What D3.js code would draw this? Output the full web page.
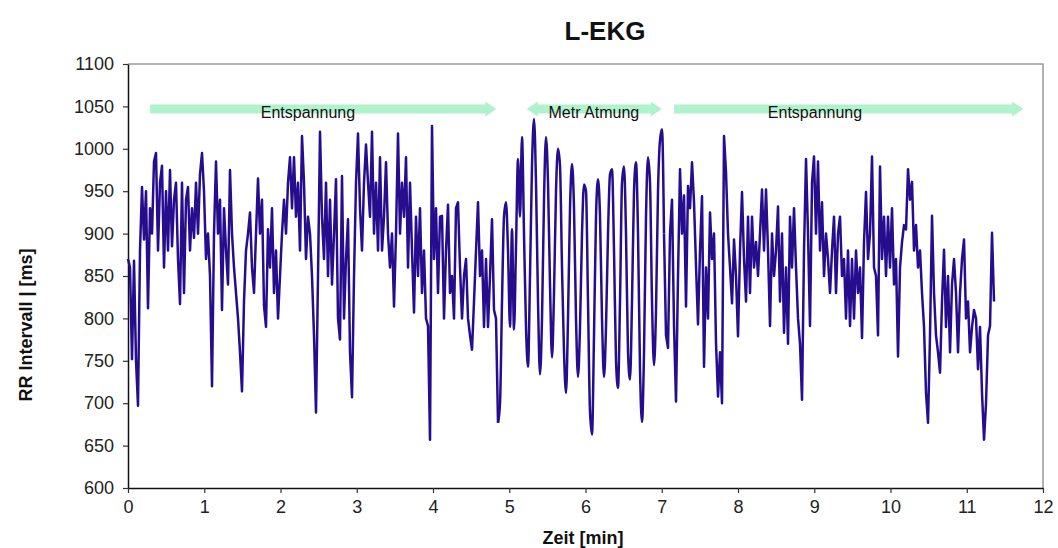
<!DOCTYPE html>
<html lang="de">
<head>
<meta charset="utf-8">
<title>L-EKG</title>
<script src="https://d3js.org/d3.v7.min.js" charset="utf-8"></script>
<style>
	body { margin: 0; background: #fff; }
	text { font-family: "Liberation Sans", Arial, sans-serif; }
</style>
</head>
<body>
<script>
	var rrEntspannung1 = [
		870, 860, 752, 868, 750, 697, 880, 955, 893, 950,
		812, 930, 900, 985, 995, 880, 960, 980, 860, 950,
		880, 975, 885, 940, 960, 870, 817, 960, 830, 940,
		955, 880, 930, 895, 960, 900, 970, 995, 950, 870,
		900, 850, 720, 900, 985, 900, 940, 810, 930, 880,
		840, 975, 900, 860, 830, 800, 760, 714, 820, 880,
		900, 925, 860, 830, 900, 965, 900, 940, 815, 790,
		905, 860, 930, 830, 880, 800, 850, 900, 940, 900,
		960, 990, 930, 990, 920, 960, 880, 1015, 960, 870,
		920, 900, 850, 780, 689, 850, 1020, 920, 870, 960,
		850, 940, 840, 900, 964, 800, 775, 968, 800, 870,
		917, 760, 707, 850, 960, 1018, 930, 880, 960, 1005,
		960, 920, 1020, 900, 960, 880, 990, 880, 920, 984,
		900, 860, 900, 814, 900, 1018, 900, 960, 920, 990,
		860, 960, 880, 807, 920, 850, 930, 830, 880, 800,
		791, 657, 1027, 870, 930, 830, 920, 921, 800, 880,
		934, 830, 850, 800, 930, 937, 860, 800, 850, 870,
		800, 780, 763, 820, 880, 937, 850, 880, 790, 870,
		790, 850, 917, 810, 800, 677
	];
	var rrAtmung = [
		700, 820, 920, 937, 880, 790, 905, 787, 885, 988,
		920, 1014, 900, 790, 743, 850, 980, 1035, 960, 820,
		734, 800, 940, 1014, 960, 840, 754, 830, 950, 1000,
		980, 860, 760, 712, 800, 930, 982, 930, 800, 731,
		790, 900, 958, 950, 820, 690, 663, 780, 920, 964,
		920, 800, 731, 790, 900, 970, 976, 880, 750, 718,
		820, 960, 979, 900, 760, 728, 820, 950, 984, 900,
		740, 678, 760, 920, 990, 960, 820, 745, 810, 950,
		1010, 1023, 900
	];
	var rrEntspannung2 = [
		780, 765, 900, 940, 791, 702, 850, 976, 900, 945,
		814, 956, 930, 984, 937, 862, 793, 880, 944, 743,
		860, 800, 925, 870, 900, 771, 708, 760, 700, 1015,
		972, 900, 860, 818, 893, 850, 779, 880, 949, 870,
		820, 920, 830, 920, 860, 890, 850, 900, 952, 880,
		952, 880, 791, 900, 850, 880, 932, 820, 900, 783,
		860, 770, 920, 860, 930, 860, 800, 770, 704, 880,
		988, 900, 791, 960, 991, 900, 985, 880, 937, 850,
		900, 870, 830, 880, 920, 830, 900, 920, 850, 870,
		800, 880, 791, 870, 800, 880, 830, 860, 777, 890,
		949, 870, 900, 991, 860, 850, 780, 979, 870, 920,
		850, 920, 860, 930, 840, 870, 755, 860, 890, 910,
		905, 976, 940, 961, 880, 910, 860, 880, 830, 790,
		712, 677, 780, 921, 830, 780, 760, 736, 820, 881,
		790, 850, 760, 840, 870, 830, 760, 830, 870, 893,
		800, 820, 760, 790, 810, 800, 740, 790, 712, 657,
		700, 780, 791, 901, 820
	];
	var schrittMin = 0.02623; // Abstand der Werte in Minuten

	// Phasen (Pfeile oben)
	var phasen = ["Entspannung", "Metr Atmung", "Entspannung"];
	var phaseVon = [0.29, 5.23, 7.16];
	var phaseBis = [4.83, 7.0, 11.74];
	var phaseTextX = [2.36, 6.11, 9.01];
	var phaseDoppel = [false, true, false];
	var pfeilHoehe = 1047;

	var xTicks = d3.range(0, 13, 1);
	var yTicks = d3.range(600, 1101, 50);

	var w = 1058;
	var h = 548;
	var links = 128, rechts = 1043, oben = 64, unten = 488;

	var svg = d3.select("body")
		.append("svg")
		.attr("width", w)
		.attr("height", h);

	var x = d3.scaleLinear().domain([0, 12]).range([links, rechts]);
	var y = d3.scaleLinear().domain([600, 1100]).range([unten, oben]);

	// Messpunkte je Abschnitt, jeweils mit dem letzten Punkt davor verbunden
	var abschnitte = [];
	var start = 0;
	[rrEntspannung1, rrAtmung, rrEntspannung2].forEach(function(reihe) {
		var pts = reihe.map(function(d, i) { return { t: (start + i) * schrittMin, v: d }; });
		if (abschnitte.length) {
			var vorher = abschnitte[abschnitte.length - 1];
			pts.unshift(vorher[vorher.length - 1]);
		}
		abschnitte.push(pts);
		start += reihe.length;
	});

	// Rahmen oben und rechts
	svg.append("path")
		.attr("d", "M" + links + "," + oben + "H" + rechts + "V" + unten)
		.attr("fill", "none")
		.attr("stroke", "#9a9a9a")
		.attr("stroke-width", 1.5);

	// Achsen
	var yAxis = svg.append("g")
		.attr("transform", "translate(" + links + ",0)")
		.call(d3.axisLeft(y).tickValues(yTicks).tickFormat(d3.format("d"))
			.tickSize(5).tickSizeOuter(0).tickPadding(9));
	var xAxis = svg.append("g")
		.attr("transform", "translate(0," + unten + ")")
		.call(d3.axisBottom(x).tickValues(xTicks).tickFormat(d3.format("d"))
			.tickSize(5).tickSizeOuter(0).tickPadding(7));

	[xAxis, yAxis].forEach(function(a) {
		a.select(".domain").attr("stroke", "#111").attr("stroke-width", 1.5);
		a.selectAll(".tick line").attr("stroke", "#333").attr("stroke-width", 1.2);
		a.selectAll(".tick text")
			.attr("font-size", 18)
			.attr("fill", "#222")
			.attr("font-family", "'Liberation Sans', Arial, sans-serif");
	});

	// Pfeile
	var sh = 4.5, hh = 7.5, hl = 11;
	var yc = y(pfeilHoehe);
	phasen.forEach(function(p, i) {
		var x0 = x(phaseVon[i]), x1 = x(phaseBis[i]);
		var pts = [];
		if (phaseDoppel[i]) {
			pts.push([x0, yc], [x0 + hl, yc - hh], [x0 + hl, yc - sh]);
		} else {
			pts.push([x0, yc - sh]);
		}
		pts.push([x1 - hl, yc - sh], [x1 - hl, yc - hh], [x1, yc], [x1 - hl, yc + hh], [x1 - hl, yc + sh]);
		if (phaseDoppel[i]) {
			pts.push([x0 + hl, yc + sh], [x0 + hl, yc + hh]);
		} else {
			pts.push([x0, yc + sh]);
		}
		svg.append("path")
			.attr("d", "M" + pts.join("L") + "Z")
			.attr("fill", "#b0f2cc");
	});

	// Messkurve: Entspannung eckig, metronomische Atmung weich
	var kurven = [d3.curveLinear, d3.curveMonotoneX, d3.curveLinear];
	abschnitte.forEach(function(pts, k) {
		var linie = d3.line()
			.x(function(d) { return x(d.t); })
			.y(function(d) { return y(d.v); })
			.curve(kurven[k]);
		svg.append("path")
			.datum(pts)
			.attr("d", linie)
			.attr("fill", "none")
			.attr("stroke", "#250d8e")
			.attr("stroke-width", 2.5)
			.attr("stroke-linejoin", "round");
	});

	// Beschriftung der Phasen
	svg.selectAll(".phase")
		.data(phasen)
		.enter()
		.append("text")
		.attr("class", "phase")
		.attr("x", function(d, i) { return x(phaseTextX[i]); })
		.attr("y", yc + 9)
		.attr("text-anchor", "middle")
		.attr("font-size", 16)
		.attr("fill", "#111")
		.text(function(d) { return d; });

	// Titel und Achsentitel
	svg.append("text")
		.attr("x", 605)
		.attr("y", 40)
		.attr("text-anchor", "middle")
		.attr("font-size", 26)
		.attr("font-weight", "bold")
		.attr("fill", "#111")
		.text("L-EKG");

	svg.append("text")
		.attr("x", 583)
		.attr("y", 544)
		.attr("text-anchor", "middle")
		.attr("font-size", 18)
		.attr("font-weight", "bold")
		.attr("fill", "#111")
		.text("Zeit [min]");

	svg.append("text")
		.attr("transform", "translate(32,325) rotate(-90)")
		.attr("text-anchor", "middle")
		.attr("font-size", 18)
		.attr("font-weight", "bold")
		.attr("fill", "#111")
		.text("RR Intervall | [ms]");
</script>
</body>
</html>
